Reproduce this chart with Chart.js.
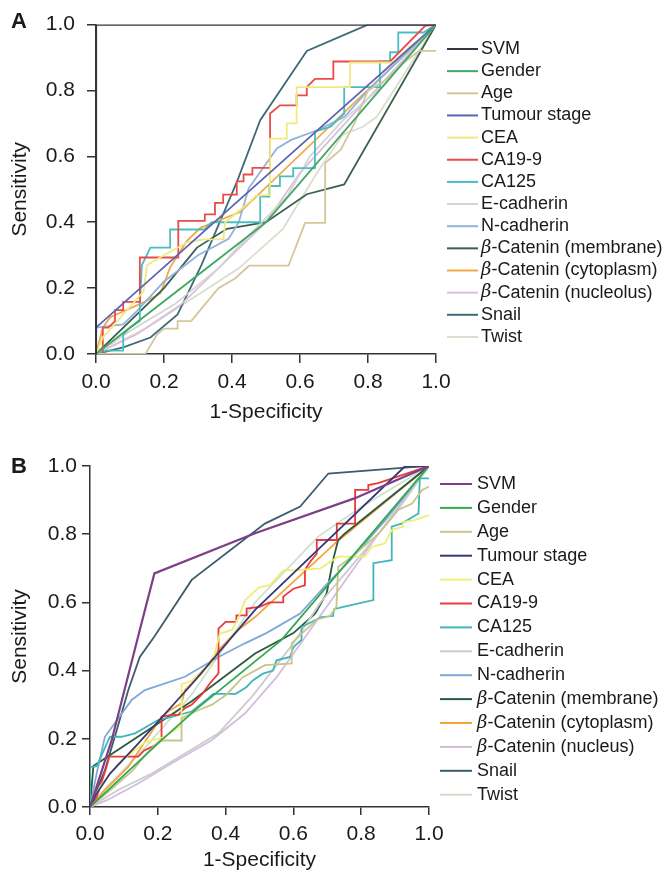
<!DOCTYPE html>
<html>
<head>
<meta charset="utf-8">
<script src="https://cdn.jsdelivr.net/npm/chart.js@4.4.1/dist/chart.umd.min.js"></script>
<style>
  html, body { margin: 0; padding: 0; background: #fff; }
  #wrap { position: relative; width: 669px; height: 875px; }
  canvas { position: absolute; left: 0; }
</style>
</head>
<body>
<div id="wrap">
  <canvas id="rocA" width="669" height="437" style="top:0"></canvas>
  <canvas id="rocB" width="669" height="438" style="top:437px"></canvas>
</div>
<script>
// ---- categories / tick labels ----
const namesA = ['SVM', 'Gender', 'Age', 'Tumour stage', 'CEA', 'CA19-9', 'CA125', 'E-cadherin', 'N-cadherin',
  'β-Catenin (membrane)', 'β-Catenin (cytoplasm)', 'β-Catenin (nucleolus)', 'Snail', 'Twist'];
const namesB = ['SVM', 'Gender', 'Age', 'Tumour stage', 'CEA', 'CA19-9', 'CA125', 'E-cadherin', 'N-cadherin',
  'β-Catenin (membrane)', 'β-Catenin (cytoplasm)', 'β-Catenin (nucleus)', 'Snail', 'Twist'];
const tickValues = [0, 0.2, 0.4, 0.6, 0.8, 1.0];

// ---- panel A curves: [1-specificity, sensitivity] ----
const aSvm = [[0, 0], [0, 1], [1, 1]];
const aGender = [[0, 0], [0.5, 0.4], [1, 1]];
const aAge = [[0, 0], [0.145, 0], [0.18, 0.06], [0.2, 0.077], [0.24, 0.077], [0.24, 0.1], [0.28, 0.1], [0.32, 0.15],
  [0.36, 0.2], [0.41, 0.23], [0.45, 0.268], [0.566, 0.268], [0.615, 0.398], [0.674, 0.398], [0.674, 0.58],
  [0.72, 0.62], [0.76, 0.7], [0.8, 0.8], [0.85, 0.83], [0.9, 0.88], [0.95, 0.92], [1, 0.92]];
const aTumour = [[0, 0], [0, 0.08], [1, 1]];
const aCea = [[0, 0], [0.02, 0.05], [0.08, 0.12], [0.14, 0.19], [0.15, 0.27], [0.2, 0.3], [0.27, 0.34], [0.316, 0.348],
  [0.375, 0.348], [0.38, 0.4], [0.45, 0.46], [0.47, 0.48], [0.512, 0.483], [0.512, 0.654], [0.561, 0.654],
  [0.561, 0.7], [0.59, 0.7], [0.59, 0.81], [0.747, 0.81], [0.747, 0.885], [0.875, 0.885], [0.92, 0.93],
  [0.97, 0.97], [1, 1]];
const aCa199 = [[0, 0], [0.02, 0], [0.02, 0.08], [0.036, 0.08], [0.056, 0.1], [0.056, 0.133], [0.08, 0.133],
  [0.08, 0.158], [0.129, 0.158], [0.129, 0.293], [0.242, 0.293], [0.242, 0.404], [0.32, 0.404], [0.32, 0.424],
  [0.35, 0.424], [0.35, 0.459], [0.374, 0.459], [0.374, 0.484], [0.414, 0.484], [0.414, 0.524], [0.434, 0.524],
  [0.434, 0.545], [0.46, 0.545], [0.46, 0.565], [0.512, 0.565], [0.512, 0.73], [0.541, 0.755], [0.59, 0.755],
  [0.59, 0.785], [0.62, 0.785], [0.62, 0.81], [0.644, 0.835], [0.698, 0.835], [0.698, 0.888], [0.865, 0.888],
  [0.968, 0.996], [1, 1]];
const aCa125 = [[0, 0], [0.03, 0.01], [0.08, 0.01], [0.08, 0.06], [0.1, 0.08], [0.129, 0.1], [0.129, 0.15],
  [0.135, 0.27], [0.16, 0.323], [0.218, 0.323], [0.218, 0.378], [0.32, 0.378], [0.34, 0.4], [0.483, 0.4],
  [0.483, 0.478], [0.51, 0.478], [0.51, 0.51], [0.541, 0.51], [0.541, 0.539], [0.58, 0.539], [0.58, 0.564],
  [0.644, 0.564], [0.644, 0.675], [0.69, 0.69], [0.73, 0.73], [0.73, 0.81], [0.835, 0.81], [0.835, 0.888],
  [0.865, 0.888], [0.865, 0.916], [0.889, 0.916], [0.889, 0.976], [0.963, 0.976], [1, 1]];
const aEcad = [[0, 0], [0.1, 0.07], [0.23, 0.15], [0.36, 0.26], [0.45, 0.36], [0.563, 0.479], [0.629, 0.6],
  [0.727, 0.71], [0.85, 0.82], [1, 1]];
const aNcad = [[0, 0], [0, 0.08], [0.08, 0.09], [0.12, 0.13], [0.2, 0.22], [0.3, 0.3], [0.39, 0.35], [0.42, 0.4],
  [0.449, 0.503], [0.532, 0.624], [0.574, 0.65], [0.653, 0.68], [0.731, 0.72], [0.8, 0.8], [0.9, 0.9], [1, 1]];
const aMembrane = [[0, 0], [0.1, 0.1], [0.2, 0.2], [0.297, 0.323], [0.385, 0.38], [0.5, 0.4], [0.62, 0.485],
  [0.73, 0.515], [1, 1]];
const aCytoplasm = [[0, 0], [0.02, 0.08], [0.042, 0.112], [0.13, 0.152], [0.189, 0.183], [0.218, 0.263],
  [0.267, 0.343], [0.307, 0.383], [0.424, 0.431], [1, 1]];
const aNucleolus = [[0, 0], [0.12, 0.06], [0.25, 0.15], [0.4, 0.3], [0.5, 0.4], [0.6, 0.55], [0.75, 0.72], [1, 1]];
const aSnail = [[0, 0], [0.08, 0.02], [0.16, 0.05], [0.24, 0.12], [0.31, 0.27], [0.415, 0.524], [0.483, 0.71],
  [0.62, 0.92], [0.8, 1], [1, 1]];
const aTwist = [[0, 0], [0.15, 0.08], [0.3, 0.18], [0.42, 0.26], [0.55, 0.38], [0.65, 0.55], [0.726, 0.666],
  [0.785, 0.69], [0.826, 0.72], [1, 1]];

// ---- panel B curves ----
const bSvm = [[0, 0], [0.064, 0.196], [0.147, 0.52], [0.19, 0.685], [0.487, 0.803], [0.78, 0.905], [1, 1]];
const bGender = [[0, 0], [0.211, 0.196], [0.31, 0.284], [0.565, 0.49], [1, 1]];
const bAge = [[0, 0], [0.06, 0.05], [0.127, 0.108], [0.17, 0.16], [0.206, 0.195], [0.27, 0.195], [0.27, 0.26],
  [0.31, 0.28], [0.36, 0.3], [0.403, 0.33], [0.45, 0.38], [0.516, 0.416], [0.595, 0.421], [0.595, 0.48],
  [0.615, 0.5], [0.67, 0.55], [0.708, 0.56], [0.727, 0.587], [0.732, 0.704], [0.78, 0.74], [0.85, 0.8],
  [0.909, 0.871], [0.95, 0.89], [0.98, 0.93], [1, 0.94]];
const bTumour = [[0, 0], [0.02, 0.04], [0.059, 0.098], [0.142, 0.186], [0.3, 0.36], [0.487, 0.578], [0.93, 1], [1, 1]];
const bCea = [[0, 0], [0.03, 0.06], [0.083, 0.128], [0.162, 0.19], [0.221, 0.206], [0.27, 0.24], [0.27, 0.36],
  [0.3, 0.37], [0.33, 0.4], [0.36, 0.42], [0.383, 0.508], [0.42, 0.52], [0.44, 0.56], [0.457, 0.606], [0.5, 0.645],
  [0.53, 0.65], [0.57, 0.694], [0.614, 0.695], [0.68, 0.7], [0.732, 0.734], [0.811, 0.734], [0.831, 0.763],
  [0.87, 0.773], [0.89, 0.812], [0.924, 0.822], [0.924, 0.836], [0.958, 0.841], [1, 0.856]];
const bCa199 = [[0, 0], [0.02, 0.03], [0.049, 0.118], [0.057, 0.148], [0.142, 0.148], [0.16, 0.166], [0.19, 0.18],
  [0.211, 0.196], [0.211, 0.265], [0.24, 0.27], [0.26, 0.27], [0.28, 0.29], [0.3, 0.3], [0.33, 0.33],
  [0.354, 0.363], [0.379, 0.392], [0.379, 0.523], [0.4, 0.543], [0.432, 0.543], [0.432, 0.562], [0.462, 0.562],
  [0.462, 0.582], [0.5, 0.587], [0.53, 0.6], [0.57, 0.6], [0.57, 0.617], [0.6, 0.64], [0.634, 0.65], [0.634, 0.695],
  [0.65, 0.72], [0.669, 0.743], [0.669, 0.783], [0.728, 0.783], [0.728, 0.831], [0.782, 0.831], [0.782, 0.93],
  [0.821, 0.93], [0.821, 0.944], [0.85, 0.95], [1, 1]];
const bCa125 = [[0, 0], [0, 0.117], [0.02, 0.12], [0.054, 0.196], [0.059, 0.206], [0.093, 0.206], [0.133, 0.216],
  [0.201, 0.255], [0.24, 0.264], [0.3, 0.28], [0.35, 0.32], [0.363, 0.332], [0.43, 0.332], [0.462, 0.352],
  [0.48, 0.371], [0.51, 0.391], [0.54, 0.4], [0.55, 0.43], [0.59, 0.44], [0.6, 0.469], [0.624, 0.49],
  [0.624, 0.528], [0.683, 0.557], [0.717, 0.56], [0.72, 0.58], [0.747, 0.587], [0.836, 0.607], [0.836, 0.715],
  [0.89, 0.724], [0.89, 0.822], [0.919, 0.831], [0.969, 0.861], [0.973, 0.964], [1, 0.964]];
const bEcad = [[0, 0], [0.083, 0.05], [0.182, 0.098], [0.28, 0.157], [0.379, 0.216], [0.477, 0.323],
  [0.516, 0.372], [0.6, 0.48], [0.68, 0.6], [0.8, 0.74], [0.9, 0.86], [1, 1]];
const bNcad = [[0, 0], [0.02, 0.1], [0.044, 0.206], [0.123, 0.314], [0.162, 0.343], [0.28, 0.382], [0.379, 0.44],
  [0.457, 0.48], [0.52, 0.51], [0.62, 0.567], [0.7, 0.655], [0.767, 0.723], [0.87, 0.84], [1, 1]];
const bMembrane = [[0, 0], [0.01, 0.12], [0.3, 0.31], [0.487, 0.45], [0.6, 0.51], [0.664, 0.567], [0.698, 0.626],
  [0.717, 0.724], [0.732, 0.783], [0.752, 0.802], [1, 1]];
const bCytoplasm = [[0, 0], [0.044, 0.05], [0.074, 0.079], [0.113, 0.118], [0.172, 0.206], [0.211, 0.264],
  [0.236, 0.284], [0.27, 0.304], [0.28, 0.343], [0.329, 0.391], [0.379, 0.46], [0.437, 0.519], [0.487, 0.557],
  [0.723, 0.773], [1, 1]];
const bNucleus = [[0, 0], [0.05, 0.02], [0.142, 0.069], [0.241, 0.128], [0.359, 0.196], [0.457, 0.274],
  [0.55, 0.38], [0.65, 0.52], [0.75, 0.66], [0.85, 0.8], [1, 1]];
const bSnail = [[0, 0], [0.044, 0.108], [0.079, 0.226], [0.113, 0.343], [0.147, 0.44], [0.19, 0.5], [0.3, 0.666],
  [0.516, 0.831], [0.62, 0.881], [0.703, 0.978], [0.949, 0.997], [1, 1]];
const bTwist = [[0, 0], [0.05, 0.06], [0.15, 0.16], [0.3, 0.33], [0.487, 0.6], [0.673, 0.793], [0.8, 0.88], [1, 1]];

const curvesA = [aSvm, aGender, aAge, aTumour, aCea, aCa199, aCa125, aEcad, aNcad, aMembrane, aCytoplasm, aNucleolus, aSnail, aTwist];
const curvesB = [bSvm, bGender, bAge, bTumour, bCea, bCa199, bCa125, bEcad, bNcad, bMembrane, bCytoplasm, bNucleus, bSnail, bTwist];

// colours
const coloursA = ['#3b3140', '#43a862', '#d3c79a', '#5d64b0', '#eeea80', '#ea4b4b', '#4bbdc0', '#d4d4d4',
  '#93b3dc', '#3c6050', '#f0a848', '#d8c0de', '#3f6a78', '#d9dfcf'];
const coloursB = ['#7e3f87', '#34a853', '#c9c489', '#36387a', '#eeee77', '#e83a3a', '#3fb6b8', '#cccccc',
  '#7ea8d8', '#2a5a40', '#f5a43a', '#d4bcdc', '#3d5c6e', '#d0e0cc'];

const FONT = "'Liberation Sans', Arial, Helvetica, sans-serif";
const INK = '#1a1a1a';
const AXIS = '#333';

// legend + panel letter drawn at the right of each plot
const sideLegend = {
  id: 'sideLegend',
  afterDraw(chart, args, opts) {
    const ctx = chart.ctx;
    ctx.save();
    ctx.textBaseline = 'middle';
    ctx.fillStyle = INK;
    chart.data.datasets.forEach((ds, i) => {
      const y = opts.top + i * opts.step;
      ctx.strokeStyle = ds.borderColor;
      ctx.lineWidth = 2;
      ctx.beginPath();
      ctx.moveTo(opts.x, y);
      ctx.lineTo(opts.x + opts.len, y);
      ctx.stroke();
      let x = opts.x + opts.len + opts.gap;
      let text = ds.label;
      if (text.startsWith('β')) {
        ctx.font = `italic 18px 'DejaVu Serif', 'Liberation Serif', serif`;
        ctx.fillText('β', x, y);
        x += ctx.measureText('β').width;
        text = text.slice(1);
      }
      ctx.font = `18px ${FONT}`;
      ctx.fillText(text, x, y);
    });
    ctx.font = `bold 22px ${FONT}`;
    ctx.textBaseline = 'alphabetic';
    ctx.fillText(opts.letter, 11, opts.letterY);
    ctx.restore();
  },
};

function buildRoc(canvasId, names, curves, colours, box) {
  const axisFont = { family: FONT, size: 21 };
  return new Chart(document.getElementById(canvasId), {
    type: 'scatter',
    data: {
      datasets: names.map((name, i) => ({
        label: name,
        data: curves[i].map(([x, y]) => ({ x, y })),
        showLine: true,
        borderColor: colours[i],
        backgroundColor: colours[i],
        borderWidth: i === 0 ? 2.2 : 1.8,
        pointRadius: 0,
        tension: 0,
      })),
    },
    options: {
      responsive: false,
      animation: false,
      events: [],
      layout: { padding: { top: box.top, right: box.right, left: 0, bottom: 0 } },
      plugins: {
        legend: { display: false },
        tooltip: { enabled: false },
        sideLegend: box.legend,
      },
      scales: {
        x: {
          type: 'linear',
          min: 0,
          max: 1,
          z: 1,
          afterBuildTicks: (s) => { s.ticks = tickValues.map((v) => ({ value: v })); },
          afterFit: (s) => { s.height = box.xHeight; },
          ticks: { callback: (v) => v.toFixed(1), font: axisFont, color: INK, padding: box.xPad, maxRotation: 0, autoSkip: false },
          grid: { drawOnChartArea: false, tickLength: box.tick, color: AXIS, lineWidth: 1.5 },
          border: { color: AXIS, width: 1.5 },
          title: { display: true, text: '1-Specificity', font: axisFont, color: INK, padding: { top: 0, bottom: box.xTitlePad } },
        },
        y: {
          type: 'linear',
          min: 0,
          max: 1,
          z: 1,
          afterBuildTicks: (s) => { s.ticks = tickValues.map((v) => ({ value: v })); },
          afterFit: (s) => { s.width = box.yWidth; },
          ticks: { callback: (v) => v.toFixed(1), font: axisFont, color: INK, padding: box.yPad, autoSkip: false },
          grid: { drawOnChartArea: false, tickLength: box.tick, color: AXIS, lineWidth: 1.5 },
          border: { color: AXIS, width: 1.5 },
          title: { display: true, text: 'Sensitivity', font: axisFont, color: INK, padding: { top: 8, bottom: 0 } },
        },
      },
    },
    plugins: [sideLegend],
  });
}

buildRoc('rocA', namesA, curvesA, coloursA, {
  top: 22, right: 233, xHeight: 83, yWidth: 96, tick: 9, xPad: 7, yPad: 12, xTitlePad: 12,
  legend: { x: 447, len: 31, gap: 3, top: 49, step: 22.15, letter: 'A', letterY: 28 },
});
buildRoc('rocB', namesB, curvesB, coloursB, {
  top: 29, right: 240, xHeight: 68, yWidth: 90, tick: 8, xPad: 7, yPad: 5, xTitlePad: 2,
  legend: { x: 440, len: 32, gap: 5, top: 47, step: 23.9, letter: 'B', letterY: 36 },
});
</script>
</body>
</html>
